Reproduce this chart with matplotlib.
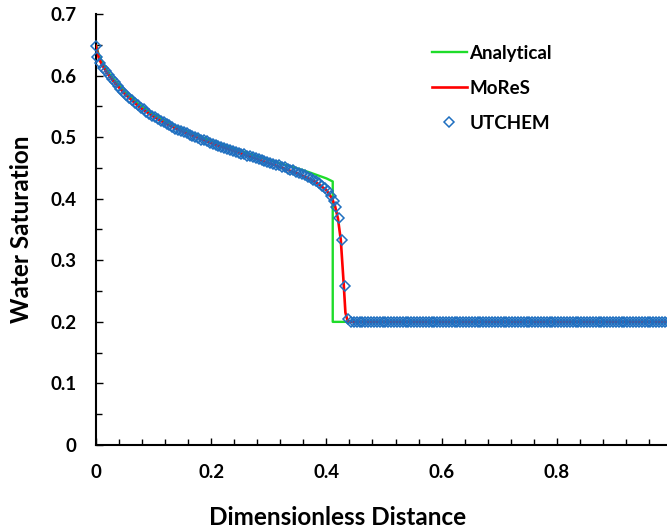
import numpy as np
import matplotlib
matplotlib.use("Agg")
import matplotlib.pyplot as plt
from matplotlib.ticker import MultipleLocator

plt.rcParams['font.family'] = ['Lato', 'DejaVu Sans']
plt.rcParams['font.weight'] = 'bold'

# Analytical Buckley-Leverett profile (rarefaction + shock front)
x_analytical = [0.0, 0.005, 0.01, 0.02, 0.03, 0.05, 0.075, 0.1, 0.125, 0.15,
                0.2, 0.25, 0.3, 0.35, 0.37, 0.4, 0.411, 0.411, 1.0]
sw_analytical = [0.650, 0.633, 0.623, 0.607, 0.595, 0.574, 0.553, 0.537, 0.524, 0.513,
                 0.494, 0.478, 0.463, 0.449, 0.443, 0.433, 0.428, 0.200, 0.200]

# MoReS simulation profile
x_mores = [0.0, 0.005, 0.01, 0.02, 0.03, 0.05, 0.075, 0.1, 0.125, 0.15, 0.2, 0.25,
           0.3, 0.35, 0.38, 0.4, 0.41, 0.415, 0.42, 0.425, 0.43, 0.433, 0.437, 0.445, 1.0]
sw_mores = [0.648, 0.628, 0.618, 0.603, 0.591, 0.570, 0.549, 0.533, 0.520, 0.509, 0.490, 0.474,
            0.458, 0.441, 0.428, 0.414, 0.400, 0.388, 0.368, 0.333, 0.262, 0.215, 0.201, 0.200, 0.200]

# UTCHEM grid-block saturations (200 blocks, plus inlet value)
sw_utchem_front = [
    0.630, 0.620, 0.613, 0.607, 0.601, 0.595, 0.589, 0.583, 0.578, 0.573,
    0.568, 0.564, 0.560, 0.556, 0.552, 0.548, 0.545, 0.541, 0.538, 0.535,
    0.532, 0.529, 0.526, 0.524, 0.521, 0.519, 0.516, 0.514, 0.512, 0.510,
    0.508, 0.506, 0.504, 0.502, 0.500, 0.498, 0.496, 0.495, 0.493, 0.491,
    0.489, 0.488, 0.486, 0.484, 0.483, 0.481, 0.479, 0.478, 0.476, 0.475,
    0.473, 0.472, 0.470, 0.469, 0.467, 0.466, 0.464, 0.463, 0.461, 0.460,
    0.458, 0.457, 0.455, 0.454, 0.452, 0.451, 0.449, 0.447, 0.446, 0.444,
    0.442, 0.440, 0.438, 0.436, 0.433, 0.431, 0.428, 0.425, 0.421, 0.417,
    0.412, 0.405, 0.397, 0.387, 0.369, 0.333, 0.259, 0.204,
]
sw_utchem_initial = 0.200
n_blocks = 200
sw_inlet = 0.648

x_blocks = (np.arange(n_blocks) + 0.5) / n_blocks
sw_blocks = np.full(n_blocks, sw_utchem_initial)
sw_blocks[:len(sw_utchem_front)] = sw_utchem_front
x_utchem = np.concatenate([[0.0], x_blocks])
sw_utchem = np.concatenate([[sw_inlet], sw_blocks])

fig = plt.figure(figsize=(6.67, 5.28), dpi=100)
ax = fig.add_axes([96 / 667, 83 / 528, 576 / 667, 431 / 528])

ax.plot(x_analytical, sw_analytical, color='#1EDC2A', lw=1.7, label='Analytical', zorder=2)
ax.plot(x_mores, sw_mores, color='#FF0000', lw=1.9, label='MoReS', zorder=3)
ax.plot(x_utchem, sw_utchem, ls='none', marker='D', ms=4.8, mfc='none',
        mec='#1F6FC0', mew=1.1, label='UTCHEM', zorder=4, clip_on=False)

ax.set_xlim(0, 1)
ax.set_ylim(0, 0.7)
ax.xaxis.set_major_locator(MultipleLocator(0.2))
ax.xaxis.set_minor_locator(MultipleLocator(0.04))
ax.yaxis.set_major_locator(MultipleLocator(0.1))
ax.yaxis.set_minor_locator(MultipleLocator(0.05))
ax.xaxis.set_major_formatter(plt.FuncFormatter(lambda v, p: f'{v:g}'))
ax.yaxis.set_major_formatter(plt.FuncFormatter(lambda v, p: f'{v:g}'))

for side in ('top', 'right'):
    ax.spines[side].set_visible(False)
for side in ('left', 'bottom'):
    ax.spines[side].set_linewidth(1.5)

ax.tick_params(which='both', direction='in', width=1.0, labelsize=13.5, pad=14)
ax.tick_params(which='major', length=5)
ax.tick_params(which='minor', length=4)

ax.set_xlabel('Dimensionless Distance', fontsize=17.5, fontweight='bold')
ax.set_ylabel('Water Saturation', fontsize=17.5, fontweight='bold')
ax.xaxis.set_label_coords(0.42, -0.141)
ax.yaxis.set_label_coords(-0.109, 0.5)

leg = ax.legend(loc='upper left', bbox_to_anchor=(432 / 667, 1 - 45 / 528),
                bbox_transform=fig.transFigure, frameon=False, fontsize=13.5,
                handlelength=1.85, handletextpad=0.15, labelspacing=0.95,
                borderaxespad=0, borderpad=0)

fig.savefig('out.png', dpi=100)
